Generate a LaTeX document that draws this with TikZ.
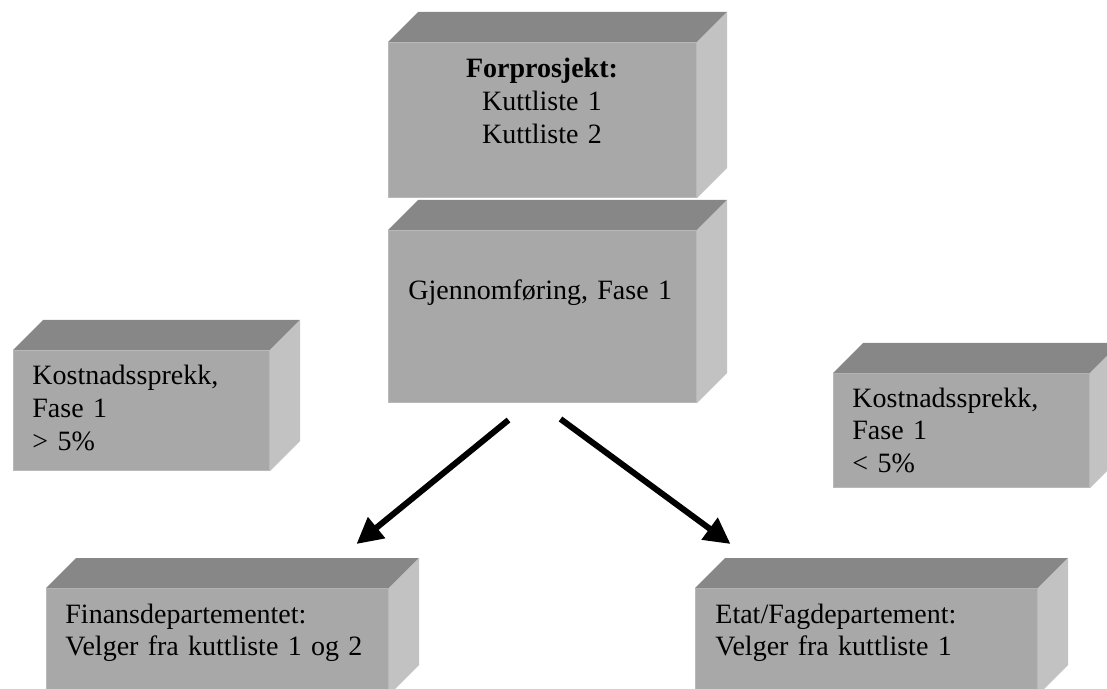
\documentclass[tikz,border=0pt]{standalone}
\usepackage{fontspec}
\setmainfont{Liberation Serif}
\usetikzlibrary{arrows.meta}
\definecolor{kfront}{RGB}{168,168,168}
\definecolor{ktopp}{RGB}{135,135,135}
\definecolor{kside}{RGB}{194,194,194}
\begin{document}
\begin{tikzpicture}[x=0.5pt, y=-0.5pt,
  kube/.style = {fill=kfront, draw=kfront!80!white, line width=0.5pt, inner sep=0, anchor=north west},
  kubetopp/.style = {fill=ktopp},
  kubeside/.style = {fill=kside},
  kubetxt/.style = {font=\fontsize{14}{16.3}\selectfont, inner sep=0, text width=160pt, align=left, anchor=base west},
  pil/.style = {line width=3pt, -{Triangle[length=13pt, width=13pt]}}
]
  \useasboundingbox (0,0) rectangle (1107,689);
  % forsider
  \node[kube, minimum width=154pt, minimum height=77.5pt] (forp) at (388,42) {};
  \node[kube, minimum width=154pt, minimum height=86pt] (gjen) at (388,230) {};
  \node[kube, minimum width=128pt, minimum height=60pt] (kostv) at (13,350) {};
  \node[kube, minimum width=128pt, minimum height=57pt] (kosth) at (833,373) {};
  \node[kube, minimum width=171pt, minimum height=53pt] (finans) at (46,588) {};
  \node[kube, minimum width=171pt, minimum height=53pt] (etat) at (695,588) {};
  % topp og side
  \foreach \k in {forp,gjen,kostv,kosth,finans,etat} {
    \fill[kubetopp] (\k.north west) -- ++(30,-30) -- ([shift={(30,-30)}]\k.north east) -- (\k.north east) -- cycle;
    \fill[kubeside] (\k.north east) -- ++(30,-30) -- ([shift={(30,-30)}]\k.south east) -- (\k.south east) -- cycle;
  }
  % tekst
  \node[kubetxt, text width=154pt, align=center, anchor=base] (forptxt) at (542,78)
    {\textbf{Forprosjekt:}\\Kuttliste 1\\Kuttliste 2};
  \node[kubetxt] (gjentxt) at (408,300) {Gjennomføring, Fase 1};
  \node[kubetxt] (kostvtxt) at (32,385) {Kostnadssprekk,\\Fase 1\\> 5\%};
  \node[kubetxt] (kosthtxt) at (852,407) {Kostnadssprekk,\\Fase 1\\< 5\%};
  \node[kubetxt] (finanstxt) at (65,623) {Finansdepartementet:\\Velger fra kuttliste 1 og 2};
  \node[kubetxt] (etattxt) at (715,623) {Etat/Fagdepartement:\\Velger fra kuttliste 1};
  % piler
  \coordinate (pilv0) at ([shift={(-34,17)}]gjen.south);
  \coordinate (pilh0) at ([shift={(18,16)}]gjen.south);
  \coordinate (pilv1) at ([shift={(139,-44)}]finans.north);
  \coordinate (pilh1) at ([shift={(-136,-44)}]etat.north);
  \draw[pil] (pilv0) -- (pilv1);
  \draw[pil] (pilh0) -- (pilh1);
\end{tikzpicture}
\end{document}
